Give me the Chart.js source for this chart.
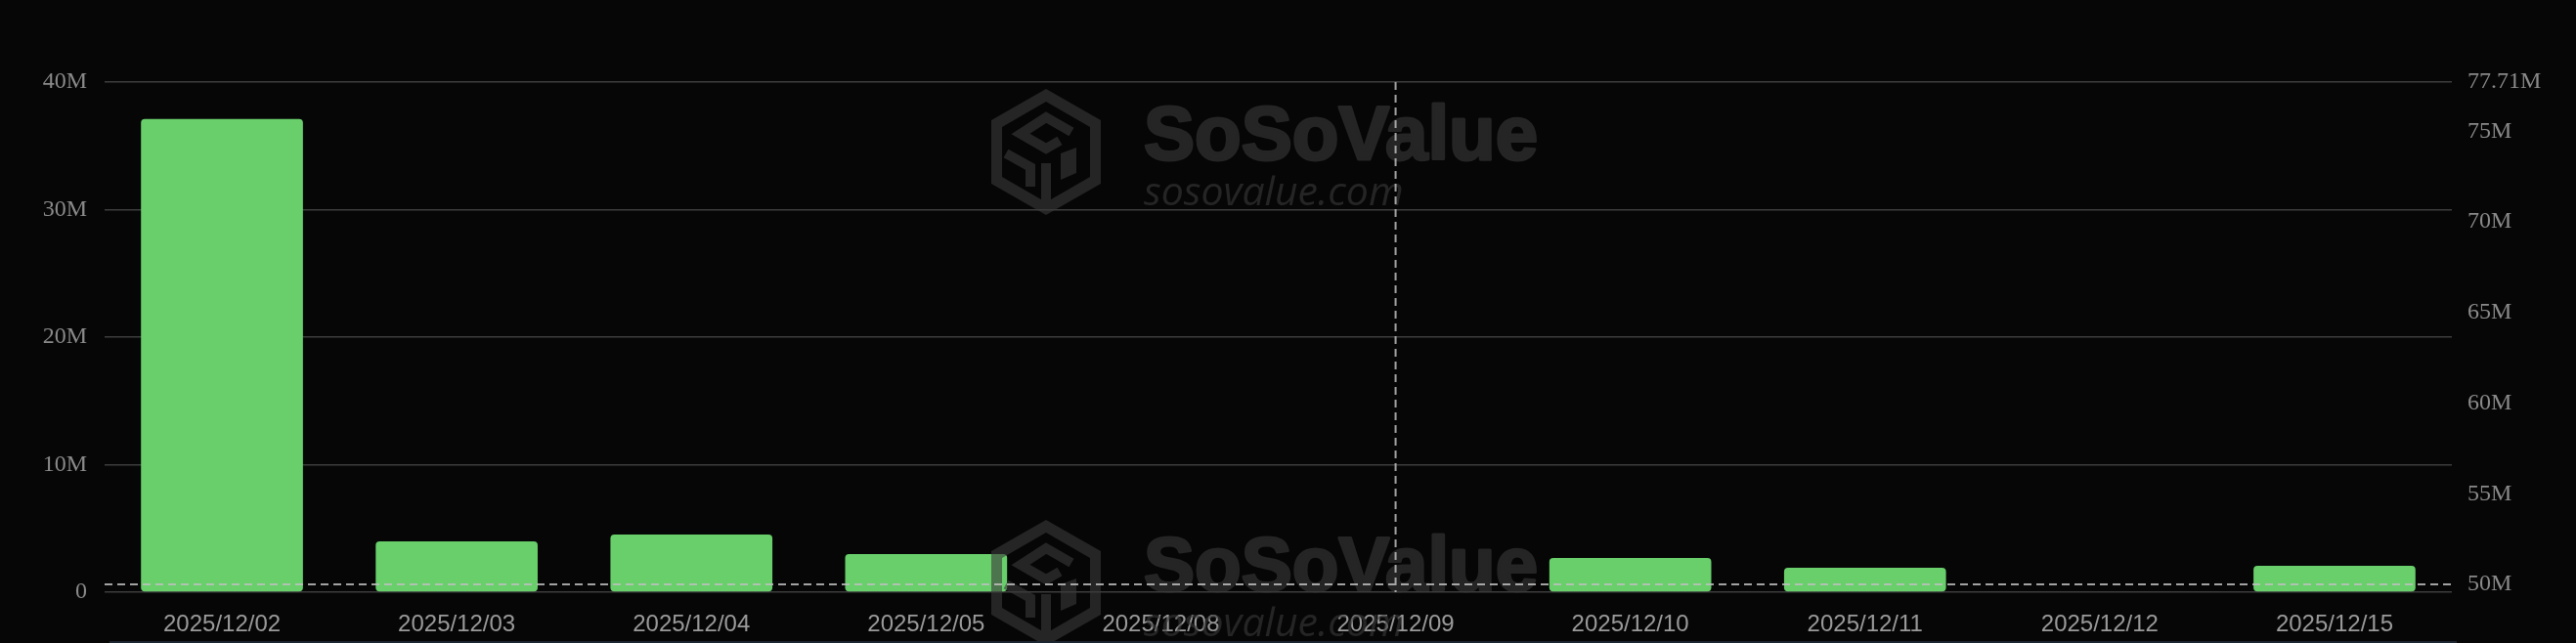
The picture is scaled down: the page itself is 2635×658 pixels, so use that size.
<!DOCTYPE html>
<html>
<head>
<meta charset="utf-8">
<script src="https://cdn.jsdelivr.net/npm/chart.js@4.4.1/dist/chart.umd.min.js"></script>
<style>
  html, body { margin: 0; padding: 0; background: #060606; overflow: hidden; }
  canvas { display: block; }
</style>
</head>
<body>
<canvas id="myChart" width="2635" height="658"></canvas>
<script>
const categories = ['2025/12/02', '2025/12/03', '2025/12/04', '2025/12/05', '2025/12/08',
                    '2025/12/09', '2025/12/10', '2025/12/11', '2025/12/12', '2025/12/15']
const netInflow = [37.1e6, 3.98e6, 4.52e6, 2.99e6, 0, 0, 2.68e6, 1.92e6, 0, 2.07e6]

const leftTicks = [0, 10e6, 20e6, 30e6, 40e6]
const rightTicks = [50e6, 55e6, 60e6, 65e6, 70e6, 75e6, 77.71e6]
const rightMin = 49.57e6
const rightMax = 77.71e6

// crosshair of the hovered day
const hoverCategory = '2025/12/09'
const hoverValue = 50e6

const ctx = document.getElementById('myChart')

function fmtM(v) {
    if (v === 0) return '0'
    return parseFloat((v / 1e6).toFixed(2)) + 'M'
}

function drawLogo(c, x0, y0) {
    c.save()
    c.translate(x0, y0)
    // hexagon ring
    c.beginPath()
    c.moveTo(56, 0); c.lineTo(112, 32); c.lineTo(112, 97); c.lineTo(56, 129); c.lineTo(0, 97); c.lineTo(0, 32); c.closePath()
    c.moveTo(56, 13); c.lineTo(101, 39); c.lineTo(101, 90); c.lineTo(56, 116); c.lineTo(11, 90); c.lineTo(11, 39); c.closePath()
    c.fill('evenodd')
    c.lineWidth = 10
    c.lineJoin = 'miter'
    // upper hook of the S
    c.beginPath()
    c.moveTo(82, 44); c.lineTo(56, 29); c.lineTo(30, 46); c.lineTo(56, 61); c.lineTo(70, 53)
    c.stroke()
    // lower left piece
    c.beginPath()
    c.moveTo(15, 66); c.lineTo(40, 80); c.lineTo(40, 100)
    c.stroke()
    // right small block
    c.beginPath()
    c.moveTo(71, 66); c.lineTo(87, 60); c.lineTo(87, 86); c.lineTo(71, 93); c.closePath()
    c.fill()
    // center stem
    c.beginPath()
    c.moveTo(56, 76); c.lineTo(56, 118)
    c.stroke()
    c.restore()
}

// watermark is drawn opaque on its own canvas, then laid over the chart with alpha
const wm = document.createElement('canvas')
wm.width = 2635
wm.height = 658
function buildWatermark() {
    const c = wm.getContext('2d')
    c.fillStyle = '#3a3a3a'
    c.strokeStyle = '#3a3a3a'
    for (const dy of [0, 441]) {
        drawLogo(c, 1014, 91 + dy)
        c.textBaseline = 'alphabetic'
        c.textAlign = 'left'
        c.font = 'bold 78px "Liberation Sans", Arial, sans-serif'
        c.lineWidth = 3
        c.lineJoin = 'round'
        c.fillText('SoSoValue', 1170, 163 + dy)
        c.strokeText('SoSoValue', 1170, 163 + dy)
        c.font = 'italic 41px "Open Sans", sans-serif'
        c.fillText('sosovalue.com', 1170, 210 + dy)
    }
}
buildWatermark()

const overlayPlugin = {
    id: 'overlay',
    beforeDraw(chart) {
        const c = chart.ctx
        c.save()
        c.fillStyle = '#060606'
        c.fillRect(0, 0, chart.width, chart.height)
        c.restore()
    },
    afterDatasetsDraw(chart) {
        const c = chart.ctx
        const area = chart.chartArea
        c.save()
        c.globalAlpha = 0.6
        c.drawImage(wm, 0, 0)
        c.restore()

        // crosshair
        const x = chart.scales.x.getPixelForValue(categories.indexOf(hoverCategory))
        const y = chart.scales.y1.getPixelForValue(hoverValue)
        c.save()
        c.strokeStyle = 'rgba(190,190,190,0.85)'
        c.lineWidth = 2
        c.setLineDash([8, 5])
        c.beginPath()
        c.moveTo(x, area.top); c.lineTo(x, area.bottom)
        c.moveTo(area.left, y); c.lineTo(area.right, y)
        c.stroke()
        c.setLineDash([])
        // thin line at the very bottom
        c.strokeStyle = '#1c2630'
        c.lineWidth = 2
        c.beginPath()
        c.moveTo(area.left + 5, chart.height - 1); c.lineTo(area.right + 5, chart.height - 1)
        c.stroke()
        c.restore()
    }
}

new Chart(ctx, {
    type: 'bar',
    data: {
        labels: categories,
        datasets: [{
            data: netInflow,
            backgroundColor: 'rgb(104, 207, 107)',
            borderRadius: 4,
            borderSkipped: false,
            barPercentage: 0.69,
            categoryPercentage: 1.0,
            yAxisID: 'y'
        }]
    },
    options: {
        responsive: false,
        devicePixelRatio: 1,
        animation: false,
        layout: { padding: { top: 84, left: 0, right: 0, bottom: 0 } },
        plugins: {
            legend: { display: false },
            tooltip: { enabled: false }
        },
        scales: {
            x: {
                z: 1,
                grid: { display: false },
                border: { display: false },
                ticks: {
                    color: '#9a9a9a',
                    font: { family: '"Liberation Sans", Arial, sans-serif', size: 24 },
                    padding: 11,
                    maxRotation: 0,
                    autoSkip: false
                },
                afterFit(scale) { scale.height = 52 }
            },
            y: {
                position: 'left',
                min: 0,
                max: 40e6,
                grid: { color: '#3d3d3d', lineWidth: 1.5, drawTicks: false },
                border: { display: false },
                ticks: {
                    color: '#8a8a8a',
                    font: { family: '"Liberation Serif", "Times New Roman", serif', size: 24 },
                    padding: 18,
                    callback: (v) => fmtM(v)
                },
                afterBuildTicks(scale) { scale.ticks = leftTicks.map(v => ({ value: v })) },
                afterFit(scale) { scale.width = 107 }
            },
            y1: {
                position: 'right',
                min: rightMin,
                max: rightMax,
                grid: { display: false, drawTicks: false },
                border: { display: false },
                ticks: {
                    color: '#8a8a8a',
                    font: { family: '"Liberation Serif", "Times New Roman", serif', size: 24 },
                    padding: 16,
                    callback: (v) => fmtM(v)
                },
                afterBuildTicks(scale) { scale.ticks = rightTicks.map(v => ({ value: v })) },
                afterFit(scale) { scale.width = 127 }
            }
        }
    },
    plugins: [overlayPlugin]
});
</script>
</body>
</html>
